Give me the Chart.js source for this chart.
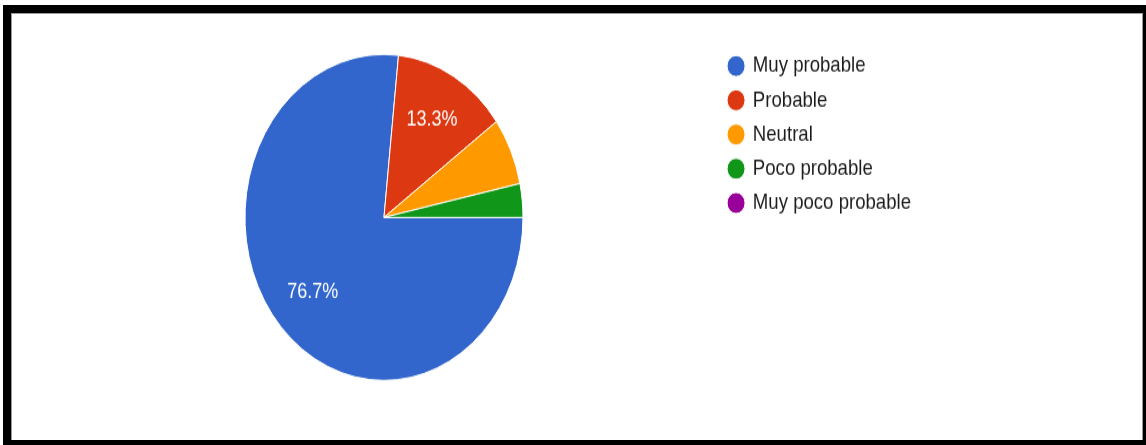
<!DOCTYPE html>
<html>
<head>
<meta charset="utf-8">
<script src="https://cdn.jsdelivr.net/npm/chart.js@4"></script>
<style>
  html, body { margin: 0; padding: 0; background: #fff; overflow: hidden; width: 1146px; height: 445px; }
  #frame {
    position: absolute; left: 3px; top: 5px; width: 1148px; height: 443px;
    box-sizing: border-box; border: 8px solid #000; background: #fff;
    box-shadow: inset 1px 1px 0 #9a9a9a, inset -1px 0 0 #9a9a9a;
  }
  /* the chart is drawn at a shorter height and stretched to fill the frame */
  #stage { position: absolute; left: 0; top: 0; width: 1132px; height: 364px; transform: scaleY(1.1727); transform-origin: 0 0; }
</style>
</head>
<body>
<div id="frame">
  <div id="stage"><canvas id="pie" width="1132" height="364"></canvas></div>
</div>
<script>
// survey answers
const categories = ['Muy probable', 'Probable', 'Neutral', 'Poco probable', 'Muy poco probable'];
const responses = [23, 4, 2, 1, 0];
const sliceColors = ['#3366cc', '#dc3912', '#ff9900', '#109618', '#990099'];

const FONT_FAMILY = '"Liberation Sans", Arial, Helvetica, sans-serif';

// percentage text inside the larger slices
const sliceLabels = {
  id: 'sliceLabels',
  afterDatasetsDraw(chart) {
    const ctx = chart.ctx;
    const meta = chart.getDatasetMeta(0);
    const values = chart.data.datasets[0].data;
    const total = values.reduce((a, b) => a + b, 0);
    ctx.save();
    ctx.font = '18px ' + FONT_FAMILY;
    ctx.fillStyle = '#ffffff';
    ctx.textAlign = 'center';
    ctx.textBaseline = 'middle';
    meta.data.forEach((arc, i) => {
      const share = values[i] / total;
      if (share < 0.1) return;
      const p = arc.getProps(['x', 'y', 'startAngle', 'endAngle', 'outerRadius'], true);
      const mid = (p.startAngle + p.endAngle) / 2;
      const r = p.outerRadius * 0.69;
      ctx.fillText((share * 100).toFixed(1) + '%', p.x + Math.cos(mid) * r, p.y + Math.sin(mid) * r);
    });
    ctx.restore();
  }
};

new Chart(document.getElementById('pie'), {
  type: 'pie',
  data: {
    labels: categories,
    datasets: [{
      data: responses,
      backgroundColor: sliceColors,
      borderColor: '#ffffff',
      borderWidth: 1,
      radius: 139
    }]
  },
  options: {
    responsive: false,
    animation: false,
    rotation: 90,
    layout: { padding: { top: 25.3, bottom: 40.7, left: 39, right: 222 } },
    plugins: {
      tooltip: { enabled: false },
      legend: {
        position: 'right',
        align: 'start',
        labels: {
          usePointStyle: true,
          pointStyle: 'circle',
          boxWidth: 15,
          boxHeight: 12.73,
          padding: 10.6,
          color: '#1c1c1c',
          font: { size: 18.6, family: FONT_FAMILY }
        }
      }
    }
  },
  plugins: [sliceLabels]
});
</script>
</body>
</html>
